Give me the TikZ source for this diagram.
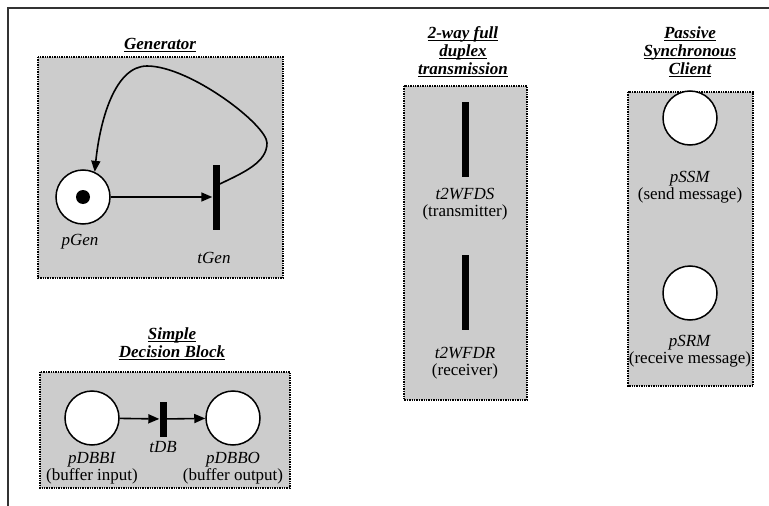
\documentclass[tikz,border=0pt]{standalone}
\usepackage{fontspec}
\setmainfont{Liberation Serif}
\usetikzlibrary{arrows.meta, positioning}
\definecolor{boxgray}{RGB}{204,204,204}
\newcommand{\ulhead}[1]{\leavevmode\setbox0=\hbox{#1}\rlap{\copy0}\rule[-3pt]{\wd0}{1.4pt}}

\begin{document}
\begin{tikzpicture}[x=1pt, y=-1pt,
    every node/.style={font=\fontsize{17}{17.5}\selectfont},
    block/.style={draw, densely dotted, line width=1.4pt, fill=boxgray},
    place/.style={circle, draw, line width=1.5pt, fill=white, minimum size=54pt, inner sep=0pt},
    trans/.style={fill=black, inner sep=0pt, minimum width=7pt},
    token/.style={circle, fill=black, minimum size=14pt, inner sep=0pt},
    arc/.style={-{Triangle[length=11pt,width=9pt]}, line width=1.6pt},
    lbl/.style={align=center, inner sep=0pt},
    title/.style={align=center, inner sep=0pt, font=\fontsize{17}{18}\selectfont\bfseries\itshape}
  ]
    \useasboundingbox (0,0) rectangle (769,506);
    \draw[line width=1.3pt, black!80] (8,506) -- (8,8) -- (769,8);

    % blocks
    \draw[block] (38,57) rectangle (283,278);
    \draw[block] (40,372) rectangle (290,488);
    \draw[block] (404,86) rectangle (527,400);
    \draw[block] (628,92) rectangle (753,386);

    % generator
    \node[title] (genTitle) at (160,45) {\ulhead{Generator}};
    \node[place] (pGen) at (83,197) {};
    \node[token] (pGenTok) at (pGen) {};
    \node[trans, minimum height=65pt] (tGen) at (216,197) {};
    \node[lbl] (pGenLbl) at (80,242) {\textit{pGen}};
    \node[lbl] (tGenLbl) at (214,258) {\textit{tGen}};
    \coordinate (loopRight) at (267,143);
    \coordinate (loopTop) at (147,66);
    \draw[arc] ([yshift=13pt]tGen.east) .. controls (245,172) and (267,162) .. (loopRight)
      .. controls (267,125) and (190,66) .. (loopTop)
      .. controls (115,66) and (100,120) .. (pGen.65);
    \draw[arc] (pGen) -- (tGen);

    % simple decision block
    \node[title] (sdbTitle) at (172,344) {\ulhead{Simple}\\\ulhead{Decision Block}};
    \node[place] (pDBBI) at (92,418) {};
    \node[trans, minimum height=35pt] (tDB) at (163,419) {};
    \node[place] (pDBBO) at (233,418) {};
    \draw[arc] (pDBBI) -- (tDB);
    \draw[arc] (tDB) -- (pDBBO);
    \node[lbl] (tDBLbl) at (163,447) {\textit{tDB}};
    \node[lbl] (pDBBILbl) at (92,468) {\textit{pDBBI}\\(buffer input)};
    \node[lbl] (pDBBOLbl) at (233,468) {\textit{pDBBO}\\(buffer output)};

    % 2-way full duplex
    \node[title] (tfdTitle) at (463,52) {\ulhead{2-way full}\\\ulhead{duplex}\\\ulhead{transmission}};
    \node[trans, minimum height=75pt] (t2WFDS) at (465,139) {};
    \node[trans, minimum height=75pt] (t2WFDR) at (465,292) {};
    \node[lbl] (t2WFDSLbl) at (465,204) {\textit{t2WFDS}\\(transmitter)};
    \node[lbl] (t2WFDRLbl) at (465,363) {\textit{t2WFDR}\\(receiver)};

    % passive synchronous client
    \node[title] (pscTitle) at (690,52) {\ulhead{Passive}\\\ulhead{Synchronous}\\\ulhead{Client}};
    \node[place] (pSSM) at (690,118) {};
    \node[place] (pSRM) at (690,293) {};
    \node[lbl] (pSSMLbl) at (690,187) {\textit{pSSM}\\(send message)};
    \node[lbl] (pSRMLbl) at (690,351) {\textit{pSRM}\\(receive message)};
  \end{tikzpicture}
\end{document}
